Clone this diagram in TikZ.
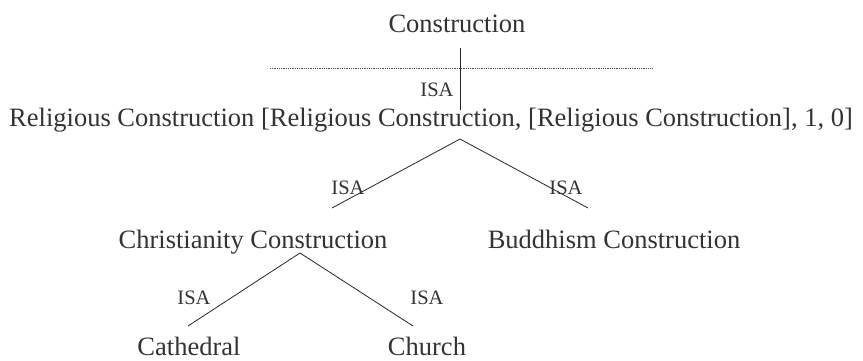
\documentclass[tikz,border=0pt]{standalone}
\usepackage{fontspec}
\setmainfont{Liberation Serif}
\usetikzlibrary{positioning}

\begin{document}
\begin{tikzpicture}[x=1pt,y=-1pt]
\tikzstyle{concept}=[inner sep=0pt, anchor=base, font=\fontsize{26.5}{30}\selectfont, text=black!80]
\tikzstyle{isa}=[inner sep=0pt, anchor=base, font=\fontsize{20.5}{24}\selectfont, text=black!80]
\tikzstyle{connect}=[line width=0.8pt, black!85]
\tikzstyle{cut}=[line width=0.5pt, dash pattern=on 0.6pt off 1.2pt, black!70]

\useasboundingbox (0,0) rectangle (863,361);

  % concepts
  \node[concept] (con)  at (457,33)  {Construction};
  \node[concept] (rel)  at (431,126) {Religious Construction [Religious Construction, [Religious Construction], 1, 0]};
  \node[concept] (chr)  at (253,248) {Christianity Construction};
  \node[concept] (bud)  at (614,248) {Buddhism Construction};
  \node[concept] (cat)  at (189,355) {Cathedral};
  \node[concept] (chu)  at (427,355) {Church};

  % end points of the links
  \coordinate (con-out) at (460,48);
  \coordinate (rel-in)  at (460,110);
  \coordinate (rel-out) at (460,139);
  \coordinate (chr-in)  at (332,208);
  \coordinate (bud-in)  at (588,208);
  \coordinate (chr-out) at (300,253);
  \coordinate (cat-in)  at (188,326);
  \coordinate (chu-in)  at (413,326);
  \coordinate (cut-l)   at (270,68);
  \coordinate (cut-r)   at (653,68);

  \draw[cut] (cut-l) -- (cut-r);

  \draw[connect] (con-out) -- (rel-in);
  \draw[connect] (chr-in) -- (rel-out) -- (bud-in);
  \draw[connect] (cat-in) -- (chr-out) -- (chu-in);

  % ISA labels
  \node[isa] (isa1) at (437,97)  {ISA};
  \node[isa] (isa2) at (348,194) {ISA};
  \node[isa] (isa3) at (566,194) {ISA};
  \node[isa] (isa4) at (194,304) {ISA};
  \node[isa] (isa5) at (427,304) {ISA};

\end{tikzpicture}
\end{document}
